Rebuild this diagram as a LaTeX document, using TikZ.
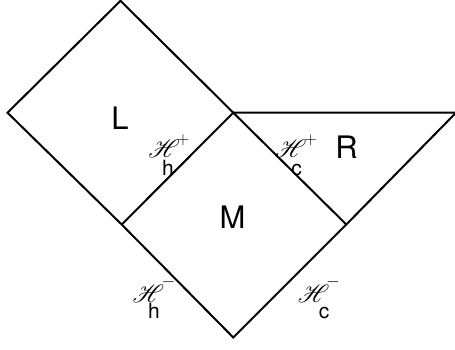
\documentclass[tikz,border=0pt]{standalone}
\usepackage{mathrsfs}
\usepackage{fontspec}
\setmainfont{TeX Gyre Heros}
\begin{document}
\begin{tikzpicture}[x=1pt,y=-1pt,
  edge/.style={line width=2pt,line join=miter},
  region/.style={font=\fontsize{31}{31}\selectfont,inner sep=0pt},
  scr/.style={font=\fontsize{30}{30}\selectfont,inner sep=0pt},
  supl/.style={font=\fontsize{16}{16}\selectfont,inner sep=0pt},
  subl/.style={font=\fontsize{21}{21}\selectfont,inner sep=0pt}]
\useasboundingbox (0,0) rectangle (455,349);
\coordinate (Lt) at (120.5,0.8);
\coordinate (Ll) at (7.5,112.7);
\coordinate (C) at (233.3,112.7);
\coordinate (Mb) at (121.7,224.5);
\coordinate (Mr) at (346.3,224.5);
\coordinate (B) at (233.3,337.5);
\coordinate (Rr) at (456,112.7);
\draw[edge] (Lt) -- (C) -- (Mr) -- (B) -- (Mb) -- (Ll) -- cycle;
\draw[edge] (C) -- (Mb);
\draw[edge] (C) -- (Rr) -- (Mr);
\node[region] (L) at (120,118.5) {L};
\node[region] (M) at (232.5,217.5) {M};
\node[region] (R) at (346.5,147.5) {R};
% H_h^+
\node[scr] (hpH) at (164,148.7) {$\mathscr{H}$};
\node[supl] (hpS) at (183,140) {$+$};
\node[subl] (hpB) at (168,168) {h};
% H_c^+
\node[scr] (cpH) at (290.7,148.7) {$\mathscr{H}$};
\node[supl] (cpS) at (310.5,140) {$+$};
\node[subl] (cpB) at (296.7,169.5) {c};
% H_h^-
\node[scr] (hmH) at (148.3,293.7) {$\mathscr{H}$};
\node[supl] (hmS) at (168.5,282) {$-$};
\node[subl] (hmB) at (154,311) {h};
% H_c^-
\node[scr] (cmH) at (313.5,293.7) {$\mathscr{H}$};
\node[supl] (cmS) at (333,282) {$-$};
\node[subl] (cmB) at (324,313) {c};
\end{tikzpicture}
\end{document}
